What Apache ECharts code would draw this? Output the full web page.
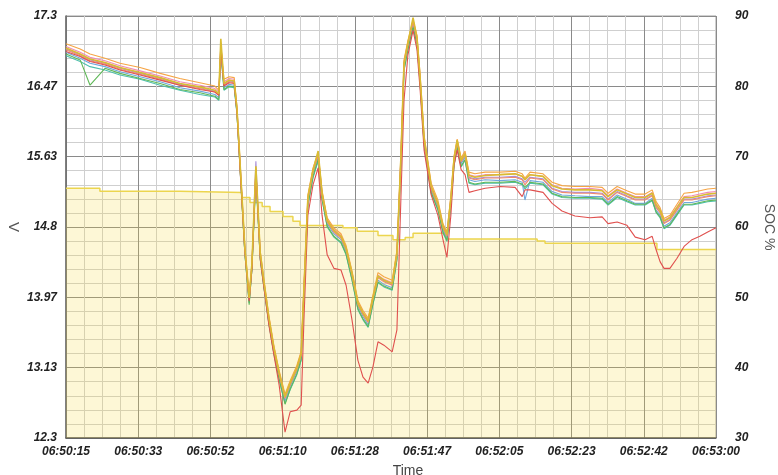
<!DOCTYPE html>
<html>
<head>
<meta charset="utf-8">
<script src="https://cdn.jsdelivr.net/npm/echarts@6/dist/echarts.min.js"></script>
<style>html,body{margin:0;padding:0;background:#fff}#c{width:778px;height:475px}</style>
</head>
<body>
<div id="c"></div>
<script>
// seconds after 06:50:15
const timeSec = [0,3.6,6.1,9.9,13.7,18.8,23.9,28.9,34.0,37.8,38.8,39.3,40.1,41.4,42.7,43.4,44.4,45.4,46.5,47.2,48.2,49.3,50.3,51.5,52.8,54.1,55.6,56.9,58.6,59.7,60.4,61.4,62.7,64.0,65.0,66.3,68.0,69.8,71.1,72.6,74.1,75.4,76.7,77.9,79.2,80.7,82.8,84.0,85.0,85.8,86.8,88.1,89.1,89.9,90.9,92.7,94.4,95.7,96.7,97.7,98.5,99.3,100.3,101.3,102.3,103.8,106.4,110.2,114.0,115.8,116.5,117.8,121.1,123.4,125.9,129.2,133.0,136.1,137.6,139.9,142.4,144.5,147.0,148.8,149.8,150.8,151.8,153.3,155.1,156.9,158.9,160.9,162.9,165.0];

const cellSalmon = [16.90,16.83,16.77,16.73,16.67,16.61,16.55,16.48,16.44,16.40,16.36,16.98,16.48,16.52,16.51,16.19,15.36,14.53,13.94,14.35,15.50,14.47,14.11,13.70,13.34,13.05,12.77,12.93,13.11,13.28,14.05,15.12,15.45,15.65,15.18,14.86,14.74,14.67,14.53,14.23,13.88,13.76,13.67,13.94,14.20,14.15,14.11,14.47,15.59,16.72,16.96,17.23,17.02,16.54,15.83,15.26,15.06,14.79,14.69,15.12,15.59,15.80,15.57,15.65,15.38,15.36,15.38,15.38,15.39,15.36,15.30,15.38,15.36,15.25,15.21,15.20,15.20,15.19,15.12,15.21,15.16,15.12,15.12,15.17,15.03,14.97,14.84,14.88,15.00,15.12,15.12,15.14,15.16,15.17];
const cellOrange = [16.97,16.91,16.85,16.80,16.74,16.69,16.62,16.56,16.51,16.47,16.42,16.95,16.55,16.58,16.57,16.22,15.40,14.57,13.98,14.38,15.45,14.52,14.16,13.75,13.39,13.10,12.82,12.98,13.16,13.33,14.10,15.18,15.50,15.68,15.23,14.91,14.79,14.72,14.58,14.28,13.93,13.81,13.72,13.99,14.26,14.21,14.17,14.52,15.65,16.78,17.01,17.25,17.07,16.60,15.89,15.32,15.12,14.84,14.74,15.17,15.64,15.84,15.62,15.70,15.45,15.43,15.45,15.45,15.46,15.43,15.38,15.45,15.43,15.33,15.29,15.28,15.28,15.27,15.20,15.28,15.23,15.19,15.19,15.24,15.10,15.03,14.90,14.94,15.07,15.20,15.21,15.23,15.25,15.26];
const cellPink = [16.94,16.87,16.81,16.77,16.71,16.65,16.59,16.52,16.48,16.44,16.40,16.93,16.52,16.56,16.55,16.21,15.38,14.55,13.96,14.37,15.47,14.50,14.14,13.73,13.37,13.08,12.80,12.96,13.14,13.31,14.08,15.15,15.48,15.66,15.21,14.89,14.77,14.70,14.56,14.26,13.91,13.79,13.70,13.97,14.23,14.18,14.14,14.50,15.62,16.75,16.99,17.24,17.05,16.57,15.86,15.29,15.09,14.82,14.72,15.15,15.62,15.82,15.60,15.68,15.42,15.40,15.42,15.42,15.43,15.40,15.36,15.42,15.40,15.30,15.26,15.25,15.26,15.24,15.17,15.25,15.20,15.16,15.16,15.21,15.07,15.01,14.88,14.92,15.04,15.16,15.17,15.19,15.21,15.22];
const cellGreen = [16.85,16.78,16.48,16.68,16.62,16.56,16.50,16.43,16.39,16.35,16.31,16.90,16.43,16.47,16.46,16.15,15.32,14.49,13.88,14.31,15.42,14.43,14.07,13.66,13.30,13.00,12.70,12.88,13.06,13.23,14.00,15.06,15.40,15.60,15.13,14.81,14.69,14.62,14.48,14.18,13.83,13.71,13.62,13.89,14.15,14.10,14.06,14.42,15.54,16.66,16.91,17.18,16.97,16.49,15.78,15.21,15.01,14.74,14.64,15.07,15.54,15.75,15.52,15.60,15.33,15.31,15.33,15.33,15.34,15.31,15.27,15.33,15.31,15.20,15.16,15.15,15.15,15.14,15.07,15.16,15.11,15.07,15.07,15.12,14.98,14.92,14.79,14.83,14.95,15.07,15.07,15.09,15.11,15.12];
const cellBlue = [16.87,16.80,16.74,16.70,16.64,16.58,16.52,16.45,16.41,16.37,16.33,16.92,16.45,16.49,16.48,16.17,15.34,14.51,13.92,14.33,15.44,14.45,14.09,13.68,13.32,13.03,12.74,12.91,13.09,13.26,14.03,15.10,15.43,15.63,15.16,14.84,14.72,14.65,14.51,14.21,13.86,13.74,13.64,13.92,14.17,14.12,14.08,14.45,15.57,16.70,16.94,17.21,17.00,16.52,15.81,15.24,15.04,14.77,14.67,15.10,15.57,15.78,15.55,15.63,15.36,15.34,15.36,15.35,15.36,15.33,15.12,15.35,15.33,15.22,15.18,15.17,15.16,15.16,15.09,15.18,15.13,15.08,15.08,15.14,15.00,14.94,14.81,14.85,14.97,15.09,15.09,15.11,15.13,15.14];
const cellPurple = [16.91,16.84,16.78,16.74,16.68,16.62,16.56,16.49,16.45,16.41,16.37,16.96,16.49,16.53,16.52,16.20,15.37,14.54,13.95,14.36,15.58,14.48,14.12,13.71,13.35,13.06,12.78,12.94,13.12,13.29,14.06,15.13,15.46,15.66,15.19,14.87,14.75,14.68,14.54,14.24,13.89,13.77,13.68,13.95,14.21,14.16,14.12,14.48,15.60,16.73,16.97,17.23,17.03,16.55,15.84,15.27,15.07,14.80,14.70,15.13,15.60,15.81,15.58,15.66,15.39,15.37,15.39,15.39,15.40,15.37,15.33,15.39,15.37,15.26,15.22,15.21,15.21,15.20,15.13,15.22,15.17,15.13,15.13,15.18,15.04,14.98,14.85,14.89,15.01,15.13,15.13,15.15,15.17,15.18];
const cellTeal = [16.83,16.76,16.70,16.66,16.60,16.55,16.48,16.42,16.37,16.34,16.30,16.88,16.42,16.46,16.45,16.14,15.31,14.48,13.90,14.30,15.40,14.42,14.06,13.65,13.29,12.99,12.71,12.87,13.05,13.22,13.98,15.05,15.38,15.58,15.12,14.80,14.68,14.61,14.47,14.17,13.82,13.70,13.61,13.88,14.14,14.09,14.05,14.41,15.53,16.65,16.90,17.16,16.96,16.48,15.77,15.20,15.00,14.73,14.63,15.06,15.53,15.74,15.51,15.59,15.32,15.30,15.32,15.32,15.33,15.30,15.25,15.32,15.30,15.19,15.15,15.14,15.14,15.13,15.06,15.15,15.10,15.06,15.06,15.11,14.97,14.91,14.78,14.82,14.94,15.06,15.06,15.08,15.10,15.11];
const cellGold = [16.92,16.85,16.79,16.75,16.69,16.63,16.57,16.50,16.46,16.42,16.38,17.03,16.50,16.54,16.53,16.20,15.38,14.55,13.96,14.37,15.52,14.49,14.13,13.72,13.36,13.07,12.79,12.95,13.13,13.30,14.07,15.15,15.47,15.70,15.20,14.88,14.76,14.69,14.55,14.25,13.90,13.78,13.69,13.96,14.22,14.17,14.13,14.49,15.61,16.74,16.98,17.28,17.04,16.56,15.85,15.28,15.08,14.81,14.71,15.14,15.61,15.83,15.59,15.67,15.41,15.39,15.41,15.42,15.43,15.40,15.36,15.42,15.40,15.29,15.25,15.24,15.24,15.23,15.16,15.24,15.19,15.15,15.15,15.20,15.06,15.00,14.87,14.91,15.03,15.15,15.15,15.17,15.19,15.20];
const cellRed = [16.88,16.82,16.76,16.72,16.66,16.60,16.54,16.48,16.43,16.40,16.36,16.90,16.47,16.51,16.50,16.15,15.30,14.50,13.92,14.30,15.48,14.42,14.06,13.64,13.28,12.93,12.37,12.61,12.63,12.69,13.70,14.94,15.30,15.50,14.94,14.47,14.31,14.29,14.11,13.70,13.22,13.02,12.95,13.14,13.44,13.40,13.32,13.58,15.12,16.30,16.84,17.13,16.90,16.42,15.71,15.18,14.94,14.65,14.44,14.94,15.53,15.71,15.48,15.42,15.21,15.23,15.26,15.28,15.27,15.16,15.24,15.24,15.21,15.08,14.99,14.93,14.91,14.92,14.84,14.86,14.82,14.68,14.65,14.69,14.53,14.39,14.31,14.31,14.43,14.57,14.65,14.69,14.74,14.79];

const socTime = [0,8.6,28.9,44.7,46.7,49.8,51.8,55.1,57.6,59.4,70.3,73.9,79.2,83.0,86.1,88.1,96.5,119.6,121.6,150.0,165.0];
const socValues = [65.5,65.1,64.9,64.2,63.5,62.9,62.2,61.5,60.8,60.2,59.9,59.4,58.8,58.2,58.5,59.1,58.3,58.0,57.7,56.8,56.8];

const xTickLabels = ['06:50:15','06:50:33','06:50:52','06:51:10','06:51:28','06:51:47','06:52:05','06:52:23','06:52:42','06:53:00'];
const vTickLabels = ['12.3','13.13','13.97','14.8','15.63','16.47','17.3'];
const socTickLabels = ['30','40','50','60','70','80','90'];

const cells = [
  ['Cell 1', cellTeal, '#4fbfae'],
  ['Cell 2', cellBlue, '#6fa6dc'],
  ['Cell 3', cellGreen, '#5fb858'],
  ['Cell 4', cellPurple, '#a88fd8'],
  ['Cell 5', cellPink, '#f08cb4'],
  ['Cell 6', cellSalmon, '#f28a6c'],
  ['Cell 7', cellOrange, '#f6a545'],
  ['Cell 8', cellRed, '#e0504e'],
  ['Cell 9', cellGold, '#d9bc32']
];

const labelFont = {fontFamily: 'Liberation Sans', fontWeight: 'bold', fontStyle: 'italic', fontSize: 12, color: '#222'};
const span = 165;

const series = [{
  name: 'SOC', type: 'line', step: 'end', yAxisIndex: 0, showSymbol: false, z: 1,
  data: socTime.map((t, i) => [t, socValues[i]]),
  lineStyle: {color: '#ecd54e', width: 1.5},
  itemStyle: {color: '#ecd54e'},
  areaStyle: {color: 'rgba(246,216,60,0.3)'}
}];
cells.forEach((c, k) => {
  series.push({
    name: c[0], type: 'line', yAxisIndex: 1, showSymbol: false, z: 3 + k,
    data: timeSec.map((t, i) => [t, c[1][i]]),
    lineStyle: {color: c[2], width: k === cells.length - 1 ? 1.6 : 1.1},
    itemStyle: {color: c[2]}
  });
});

const chart = echarts.init(document.getElementById('c'));
chart.setOption({
  animation: false,
  backgroundColor: '#fff',
  grid: {left: 66, right: 62, top: 16, bottom: 37, outerBoundsMode: 'none', containLabel: false, show: true, borderColor: '#a0a0a0', borderWidth: 1},
  xAxis: {
    type: 'value', min: 0, max: span, interval: span / 9,
    name: 'Time', nameLocation: 'middle', nameGap: 26,
    nameTextStyle: {fontFamily: 'Liberation Sans', fontSize: 14, color: '#444', padding: [0, 0, 0, 34]},
    axisLine: {show: true, lineStyle: {color: '#555', width: 1.5}},
    axisTick: {show: false},
    axisLabel: Object.assign({margin: 8, formatter: v => xTickLabels[Math.round(v / (span / 9))]}, labelFont),
    splitLine: {show: true, lineStyle: {color: '#8a8a8a', width: 1}},
    minorTick: {show: false, splitNumber: 4},
    minorSplitLine: {show: true, lineStyle: {color: '#cfcfcf', width: 1}}
  },
  yAxis: [{
    type: 'value', position: 'right', min: 30, max: 90, interval: 10,
    name: 'SOC %', nameLocation: 'middle', nameGap: 46, nameRotate: -90, nameMoveOverlap: false,
    nameTextStyle: {fontFamily: 'Liberation Sans', fontSize: 14, color: '#555'},
    axisLine: {show: true, lineStyle: {color: '#a0a0a0'}},
    axisTick: {show: false},
    axisLabel: Object.assign({margin: 19, formatter: v => socTickLabels[Math.round((v - 30) / 10)]}, labelFont),
    splitLine: {show: true, lineStyle: {color: '#8a8a8a', width: 1}},
    minorTick: {show: false, splitNumber: 5},
    minorSplitLine: {show: true, lineStyle: {color: '#cfcfcf', width: 1}}
  }, {
    type: 'value', position: 'left', min: 12.3, max: 17.3, alignTicks: true,
    name: 'V', nameLocation: 'middle', nameGap: 45, nameRotate: -90, nameMoveOverlap: false,
    nameTextStyle: {fontFamily: 'Liberation Sans', fontSize: 15, color: '#555'},
    axisLine: {show: true, lineStyle: {color: '#666', width: 1.5}},
    axisTick: {show: false},
    axisLabel: Object.assign({margin: 9, formatter: v => vTickLabels[Math.round((v - 12.3) / (5 / 6))]}, labelFont),
    splitLine: {show: false}
  }],
  series: series
});
</script>
</body>
</html>
